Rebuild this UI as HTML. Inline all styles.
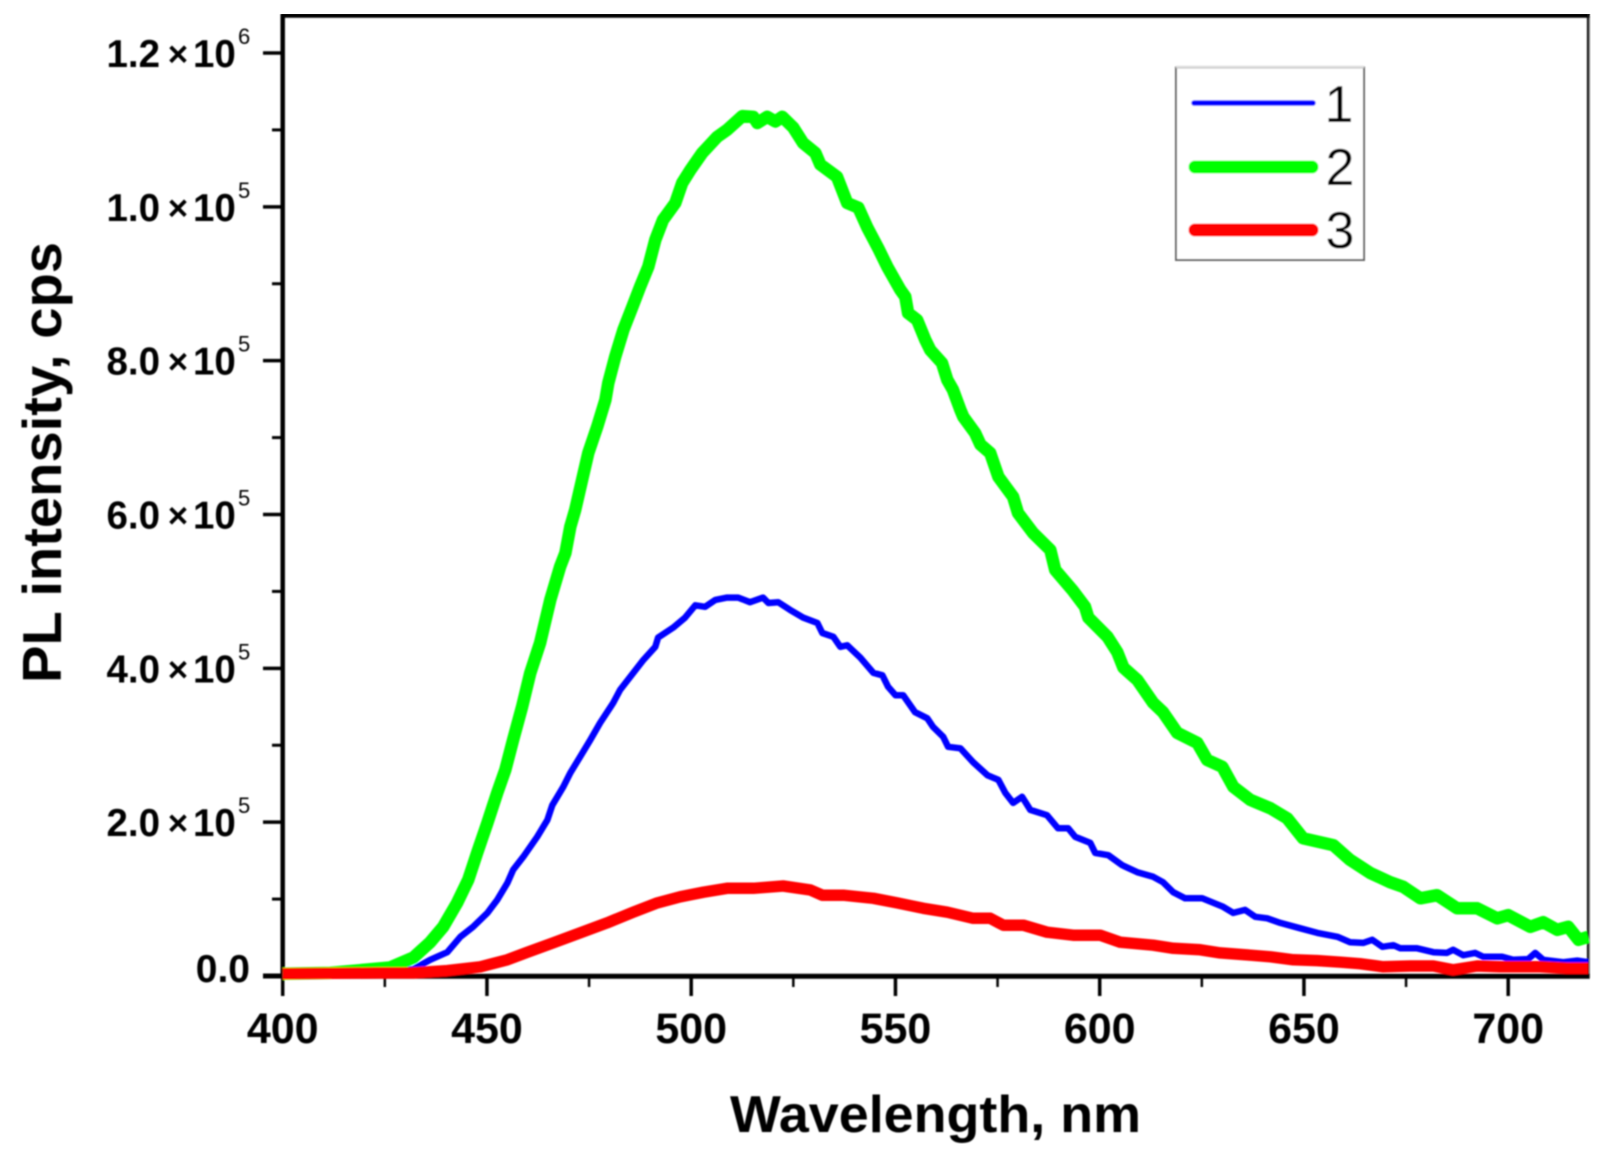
<!DOCTYPE html>
<html lang="en">
<head>
<meta charset="utf-8">
<title>PL intensity vs wavelength</title>
<style>
html,body{margin:0;padding:0;background:#fff;}
svg{display:block;}
text{font-family:"Liberation Sans",sans-serif;fill:#000;}
.b{font-weight:bold;}
</style>
</head>
<body>
<svg id="chart" xmlns="http://www.w3.org/2000/svg" width="1603" height="1158" viewBox="0 0 1603 1158">
<defs><filter id="soft" x="0" y="0" width="100%" height="100%"><feGaussianBlur stdDeviation="0.7"/></filter></defs>
<rect width="1603" height="1158" fill="#fff"/>
<g id="root" filter="url(#soft)">
  <line x1="1590.5" y1="16" x2="1590.5" y2="978" stroke="#c4c4c4" stroke-width="2.5"/>
  <line x1="281" y1="15.5" x2="1590" y2="15.5" stroke="#000" stroke-width="4.5"/>
  <line x1="1588.2" y1="14" x2="1588.2" y2="978" stroke="#111" stroke-width="2.5"/>
  <line x1="282.7" y1="14" x2="282.7" y2="978" stroke="#000" stroke-width="4.5"/>
  <line x1="281" y1="976.3" x2="1590" y2="976.3" stroke="#000" stroke-width="5"/>
  <g id="ticks"></g>
  <g id="labels"></g>
  <g id="series"></g>
  <text class="b" transform="translate(61,683) rotate(-90)" font-size="55" textLength="441" lengthAdjust="spacingAndGlyphs">PL intensity, cps</text>
  <text class="b" x="730" y="1132" font-size="52" textLength="411" lengthAdjust="spacingAndGlyphs">Wavelength, nm</text>
  <g>
    <rect x="1176" y="67.5" width="188" height="192.5" fill="#fff" stroke="#666" stroke-width="2"/>
    <line x1="1176" y1="67" x2="1364" y2="67" stroke="#ddd" stroke-width="2.5"/>
    <line x1="1194" y1="103" x2="1313" y2="103" stroke="#0000ff" stroke-width="5.5" stroke-linecap="round"/>
    <text x="1339" y="122" font-size="52" text-anchor="middle">1</text>
    <line x1="1195" y1="167" x2="1312" y2="167" stroke="#00ff00" stroke-width="13" stroke-linecap="round"/>
    <text x="1340" y="185" font-size="52" text-anchor="middle">2</text>
    <line x1="1195" y1="230" x2="1312" y2="230" stroke="#ff0000" stroke-width="13" stroke-linecap="round"/>
    <text x="1340" y="248" font-size="52" text-anchor="middle">3</text>
  </g>
</g>
</svg>
<script>
// Intensities are in thousands of counts per second, wavelengths in nm.
const xMajorTicks = [400,450,500,550,600,650,700];
const xMinorTicks = [425,475,525,575,625,675];
const yMajorTicks = [0,200,400,600,800,1000,1200];
const yMinorTicks = [100,300,500,700,900,1100];
const yMantissas = ['0.0','2.0','4.0','6.0','8.0','1.0','1.2'];
const yExponents = ['','5','5','5','5','5','6'];

const blueWavelengths = [400,432,436.1,440.3,443.5,446.6,450.1,452.5,455,456.4,458.9,462.3,464.8,466,468.7,470.4,472.8,475.3,477.7,480.9,482.6,485.1,488.3,491.2,491.9,495.6,498.5,501,503.4,505.9,508.8,511.5,514.4,517.6,518.9,521.3,524.2,527.4,530.9,532.1,534.8,536.5,538.2,541.4,544.6,546.8,548.2,550,551.9,554.8,557.8,559.2,561.7,562.9,565.9,569,572.5,575.2,576.9,578.8,581,583,587.1,589.8,592.3,594,597.7,598.9,602.1,605.5,609.2,613.1,615.5,618,620.9,625.1,630.2,632.7,635.6,638.1,641,644.2,649.1,653.3,658.2,661.3,664.5,666.7,669.2,671.9,673.6,677.7,681.7,685,686.5,689,691.9,693.9,698.5,701.2,704.9,706.6,708.6,713.5,716.9,719.6];
const blueValues = [1,9,21,31,51,64,82,99,121,138,155,181,203,222,246,264,285,307,329,355,372,389,411,428,440,453,466,482,480,489,492,492,486,492,485,486,476,466,459,446,441,428,430,414,394,391,376,365,365,343,335,324,311,298,296,278,261,255,238,225,233,216,209,192,192,181,173,160,157,144,135,129,122,109,101,101,90,82,86,77,75,69,62,56,51,44,43,47,38,40,36,36,31,30,34,27,30,25,25,21,22,30,21,18,20,18];

const greenWavelengths = [400,411.6,426.3,432,436.1,439.3,442.7,445.4,447.6,450.1,452.5,454.5,456.4,458.6,460.6,463,465.5,467.9,469.2,470.4,471.6,473.3,474.8,477,479,479.7,481.4,483.4,485.6,487.5,489.5,491.2,493.1,496.1,497.8,499.8,502.7,506.4,508.8,512.5,515.2,516.2,518.6,520.6,522.3,525,527.4,530.4,531.6,535.7,538.2,540.9,543.1,545.8,548,551.2,552.4,553.1,555.3,557.3,558.5,561.4,562.7,564.1,565.9,566.6,569.5,570.8,573.2,575.2,578.8,580,583.7,587.9,589.1,593.3,596.4,597.2,601.9,604.3,605.8,609.2,613.1,615.5,619,623.9,626.3,630,632.7,636.9,641.8,645.9,649.8,657.2,661.3,666.2,671.1,674.3,678.5,682.6,687.5,692.4,697.3,700,705.4,708.6,712,714.7,717.2,719.6];
const greenValues = [3,4,11,24,44,64,95,125,160,199,238,268,307,350,394,433,489,532,550,584,606,645,680,714,749,771,805,840,870,896,922,957,983,1005,1031,1048,1070,1091,1100,1118,1117,1109,1117,1111,1117,1103,1083,1070,1055,1039,1005,999,973,946,922,892,883,862,853,827,814,797,775,762,736,727,706,691,680,649,623,602,576,554,528,502,480,466,441,421,401,385,355,343,316,303,281,272,246,229,218,205,179,170,151,134,122,116,101,105,88,88,75,79,64,70,60,64,47,51];

const redWavelengths = [400,423.9,432,440.3,448.4,455,459.9,466.2,472.8,479.4,485.8,491.7,497.3,503,508.8,515.2,522.5,529.1,532.1,537.2,544.6,550.4,556.8,562.7,569,573.2,576.4,581.3,587.1,593.5,600.1,605,613.1,618,624.6,629.5,636.9,641.8,647.4,653.3,659,663.7,669.4,676,681.7,686.5,692.4,698,707.8,714.4,719.6];
const redValues = [3,4,4,7,12,21,31,43,56,69,83,95,103,109,114,114,117,112,105,105,101,95,88,83,75,75,66,66,57,53,53,44,40,36,34,30,27,25,21,20,18,16,12,13,13,8,13,12,12,10,10];

const SVGNS = 'http://www.w3.org/2000/svg';
function xScale(w){ return 282.7 + (w - 400) * 4.085; }
function yScale(v){ return 976 - v * 0.76917; }

const tickLayer = document.getElementById('ticks');
const labelLayer = document.getElementById('labels');
const seriesLayer = document.getElementById('series');

function addLine(parent, x1, y1, x2, y2, width){
  const el = document.createElementNS(SVGNS, 'line');
  el.setAttribute('x1', x1);
  el.setAttribute('y1', y1);
  el.setAttribute('x2', x2);
  el.setAttribute('y2', y2);
  el.setAttribute('stroke', '#000');
  el.setAttribute('stroke-width', width);
  parent.appendChild(el);
  return el;
}
function addText(parent, x, y, size, anchor, bold, str){
  const el = document.createElementNS(SVGNS, 'text');
  el.setAttribute('x', x);
  el.setAttribute('y', y);
  el.setAttribute('font-size', size);
  el.setAttribute('text-anchor', anchor);
  if (bold) el.setAttribute('font-weight', 'bold');
  el.textContent = str;
  parent.appendChild(el);
  return el;
}

xMajorTicks.forEach(function(w){
  const t = addLine(tickLayer, xScale(w), 977, xScale(w), 996, 3.5);
  
  
  const l = addText(labelLayer, xScale(w), 1043, 43, 'middle', true, String(w));
  
  
});
xMinorTicks.forEach(function(w){
  const t = addLine(tickLayer, xScale(w), 977, xScale(w), 987, 2.5);
  
  
});
yMajorTicks.forEach(function(v, i){
  const y = yScale(v);
  const t = addLine(tickLayer, 263, y, 282, y, i === 0 ? 5 : 3.5);
  
  
  if (yExponents[i] === '') {
    const z = addText(labelLayer, 250, y + 6, 39, 'end', true, yMantissas[i]);
    
    
    return;
  }
  const m = addText(labelLayer, 160, y + 14, 38.5, 'end', true, yMantissas[i]);
  
  
  const c = addText(labelLayer, 178, y + 13, 35, 'middle', true, '\u00d7');
  
  
  const b = addText(labelLayer, 193, y + 14, 38.5, 'start', true, '10');
  
  
  const e = addText(labelLayer, 238, y - 9, 22, 'start', false, yExponents[i]);
  
  
});
yMinorTicks.forEach(function(v){
  const t = addLine(tickLayer, 272, yScale(v), 282, yScale(v), 3);
  
  
});

function addSeries(wavelengths, values, color, width){
  let d = '';
  wavelengths.forEach(function(w, i){
    d += (i ? 'L' : 'M') + xScale(w).toFixed(1) + ' ' + yScale(values[i]).toFixed(1);
  });
  const p = document.createElementNS(SVGNS, 'path');
  p.setAttribute('d', d);
  p.setAttribute('fill', 'none');
  p.setAttribute('stroke', color);
  p.setAttribute('stroke-width', width);
  p.setAttribute('stroke-linejoin', 'round');
  p.setAttribute('stroke-linecap', 'butt');
  seriesLayer.appendChild(p);
  return p;
}
const blueLine = addSeries(blueWavelengths, blueValues, '#0000ff', 6.5);


const greenLine = addSeries(greenWavelengths, greenValues, '#00ff00', 12.5);


const redLine = addSeries(redWavelengths, redValues, '#ff0000', 11.5);


</script>
</body>
</html>
